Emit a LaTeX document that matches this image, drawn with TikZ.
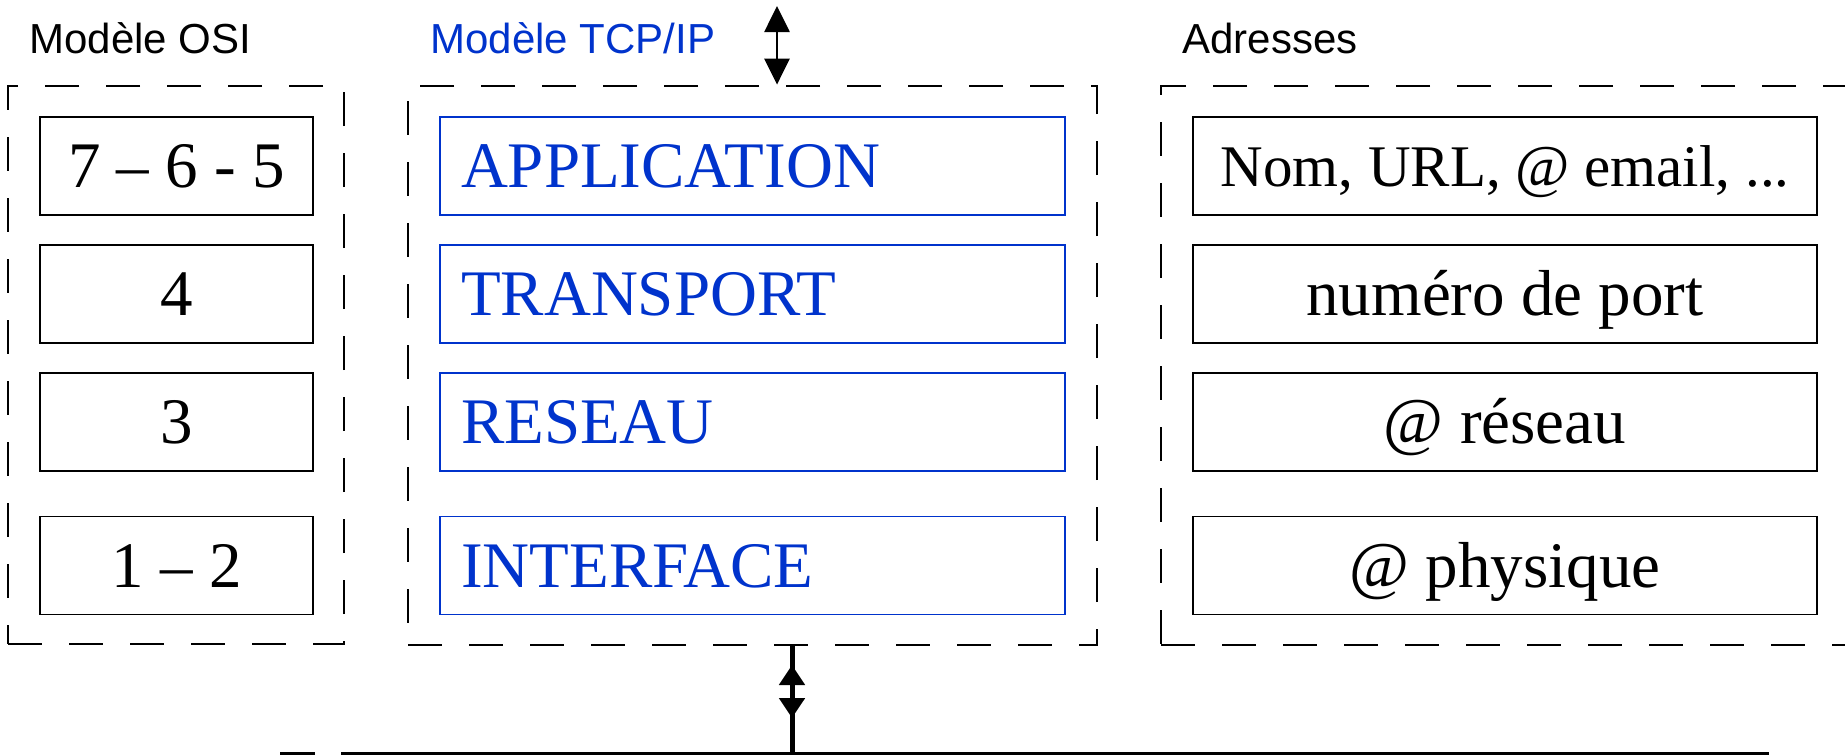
\documentclass[tikz,border=0pt]{standalone}
\usepackage{fontspec}
\setmainfont{Liberation Serif}
\newfontfamily\labelfont{Liberation Sans}
\usetikzlibrary{arrows.meta}
\definecolor{tcpblue}{RGB}{0,51,204}

\begin{document}
\begin{tikzpicture}[x=0.5pt,y=-0.5pt,
  group/.style={draw, line width=1.4pt, dash pattern=on 17pt off 13.5pt, inner sep=0pt},
  layer/.style={draw, line width=0.7pt, inner sep=0pt, minimum height=49pt,
    text height=21.5pt, text depth=0pt, font=\fontsize{32.5}{36}\selectfont},
  osilayer/.style={layer, minimum width=136.5pt},
  tcplayer/.style={layer, draw=tcpblue, text=tcpblue, text width=291.5pt,
    inner xsep=10.5pt, align=left},
  addrlayer/.style={layer, minimum width=312pt},
  title/.style={anchor=base west, inner sep=0pt, font=\labelfont\fontsize{21}{24}\selectfont},
  link/.style={line width=1.35pt},
  bus/.style={line width=1.5pt},
]
\useasboundingbox (0,0) rectangle (1845,755);
\clip (0,0) rectangle (1845,755);

% column titles
\node[title] (osititle) at (29,54) {Modèle OSI};
\node[title, text=tcpblue] (tcptitle) at (430,54) {Modèle TCP/IP};
\node[title] (addrtitle) at (1182,54) {Adresses};

% dashed groups
\node[group, minimum width=168pt, minimum height=279pt] (osi) at (176,365) {};
\node[group, minimum width=344.5pt, minimum height=279.5pt] (tcp) at (752.5,365.5) {};
\node[group, minimum width=354.5pt, minimum height=279.5pt] (addr) at (1515.5,365.5) {};

% OSI layers
\node[osilayer] (o1) at (176.5,166) {7 – 6 - 5};
\node[osilayer] (o2) at (176.5,294) {4};
\node[osilayer] (o3) at (176.5,422) {3};
\node[osilayer] (o4) at (176.5,565.5) {1 – 2};

% TCP/IP layers
\node[tcplayer] (t1) at (752.5,166) {APPLICATION};
\node[tcplayer] (t2) at (752.5,294) {TRANSPORT};
\node[tcplayer] (t3) at (752.5,422) {RESEAU};
\node[tcplayer] (t4) at (752.5,565.5) {INTERFACE};

% addresses
\node[addrlayer, text height=20pt] (a1) at (1505,166) {\fontsize{29.5}{34}\selectfont Nom, URL, @ email, ...};
\node[addrlayer] (a2) at (1505,294) {numéro de port};
\node[addrlayer] (a3) at (1505,422) {@ réseau};
\node[addrlayer] (a4) at (1505,565.5) {@ physique};

% exchange with the layer above
\coordinate (topend) at (777,6);
\draw[link, <->, >={Triangle[length=13pt,width=12.5pt]}] (topend) -- (topend |- tcp.north);

% physical medium
\coordinate (dashA) at (280,753);
\coordinate (dashB) at (315,753);
\coordinate (busleft) at (341,753);
\coordinate (busright) at (1769,753);
\draw[bus] (dashA) -- (dashB);
\draw[bus] (busleft) -- (busright);

\coordinate (tap) at (792,753);
\draw[line width=2.5pt] (tcp.south -| tap) -- (tap);
\coordinate (uptip) at (792,665);
\coordinate (downtip) at (792,718);
\draw[line width=2.5pt, <->, >={Triangle[length=10pt,width=12.5pt]}] (uptip) -- (downtip);
\end{tikzpicture}
\end{document}
